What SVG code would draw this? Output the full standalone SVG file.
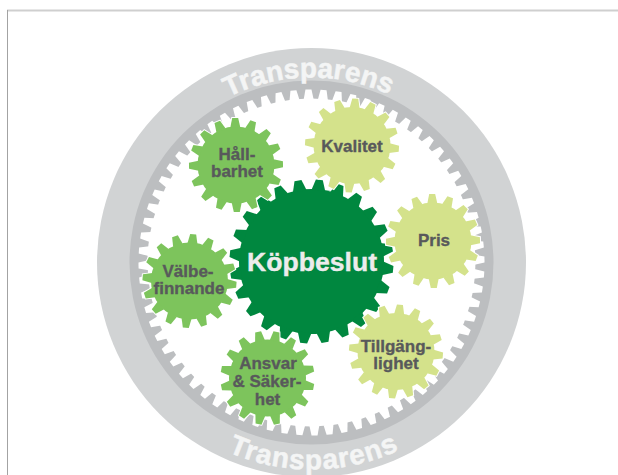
<svg xmlns="http://www.w3.org/2000/svg" xmlns:xlink="http://www.w3.org/1999/xlink" width="618" height="475" viewBox="0 0 618 475">
<style>
text{font-family:"Liberation Sans",Arial,sans-serif;font-weight:700}
.lab{font-size:17px;fill:#58595b;stroke:#58595b;stroke-width:.35;text-anchor:middle}
.rim{font-size:28px;fill:#f4f5f5;stroke:#f4f5f5;stroke-width:.5;text-anchor:middle}
</style>
<defs>
<path id="topArc" d="M126.5 262.5A185 185 0 0 1 496.5 262.5"/>
<path id="botArc" d="M104.5 262.5A207 207 0 0 0 518.5 262.5"/>
<polygon id="r1" points="-5,-163 -3,-173 3,-173 5,-163"/>
<g id="r2"><use href="#r1"/><use href="#r1" transform="rotate(5)"/><use href="#r1" transform="rotate(10)"/></g>
<g id="r3"><use href="#r2"/><use href="#r2" transform="rotate(15)"/><use href="#r2" transform="rotate(30)"/><use href="#r2" transform="rotate(45)"/></g>
<g id="ringGear"><circle r="164"/><use href="#r3"/><use href="#r3" transform="rotate(60)"/><use href="#r3" transform="rotate(120)"/><use href="#r3" transform="rotate(180)"/><use href="#r3" transform="rotate(240)"/><use href="#r3" transform="rotate(300)"/></g>
<polygon id="b1" points="-7,-71 -3.5,-82 3.5,-82 7,-71"/>
<g id="b2"><use href="#b1"/><use href="#b1" transform="rotate(15)"/><use href="#b1" transform="rotate(30)"/></g>
<g id="b3"><use href="#b2"/><use href="#b2" transform="rotate(45)"/></g>
<g id="bigGear"><circle r="72.5"/><use href="#b3"/><use href="#b3" transform="rotate(90)"/><use href="#b3" transform="rotate(180)"/><use href="#b3" transform="rotate(270)"/></g>
<polygon id="s1" points="-5,-37.5 -3,-47 3,-47 5,-37.5"/>
<g id="s2"><use href="#s1"/><use href="#s1" transform="rotate(22.5)"/></g>
<g id="s3"><use href="#s2"/><use href="#s2" transform="rotate(45)"/></g>
<g id="smallGear"><circle r="38.5"/><use href="#s3"/><use href="#s3" transform="rotate(90)"/><use href="#s3" transform="rotate(180)"/><use href="#s3" transform="rotate(270)"/></g>
</defs>
<rect width="618" height="475" fill="#fff"/>
<g id="frame">
<rect x="7" y="9.5" width="611" height="2" fill="#cfcfcf"/>
<rect x="7" y="10" width="1" height="465" fill="#a3a3a3"/>
</g>
<g id="ring">
<circle cx="311.5" cy="262.5" r="214.5" fill="#d1d3d4"/>
<circle cx="311.5" cy="262.5" r="182" fill="#bcbec0"/>
<use href="#ringGear" fill="#fff" transform="translate(311.5 262.5) rotate(-1)"/>
<text class="rim"><textPath href="#topArc" startOffset="49.5%">Transparens</textPath></text>
<text class="rim" letter-spacing="1"><textPath href="#botArc" startOffset="50.4%">Transparens</textPath></text>
</g>
<g id="connectors"/>
<g id="kopbeslut">
<use href="#bigGear" fill="#00873f" transform="translate(311.5 261.5) rotate(5.5)"/>
<text x="312" y="271" text-anchor="middle" font-size="26.6" fill="#ececec" stroke="#ececec" stroke-width=".4">Köpbeslut</text>
</g>
<g id="hallbarhet">
<use href="#smallGear" fill="#fff" stroke="#fff" stroke-width="2" transform="translate(236 165) rotate(-1)"/>
<use href="#smallGear" fill="#7dc45c" transform="translate(236 165) rotate(-1)"/>
<text class="lab" x="237" y="159.5">Håll-</text><text class="lab" x="237" y="177">barhet</text>
</g>
<g id="kvalitet">
<use href="#smallGear" fill="#fff" stroke="#fff" stroke-width="2" transform="translate(352 145.5) rotate(4)"/>
<use href="#smallGear" fill="#d4e28b" transform="translate(352 145.5) rotate(4)"/>
<text class="lab" x="352" y="151.5">Kvalitet</text>
</g>
<g id="pris">
<use href="#smallGear" fill="#fff" stroke="#fff" stroke-width="2" transform="translate(433 241) rotate(-1)"/>
<use href="#smallGear" fill="#d4e28b" transform="translate(433 241) rotate(-1)"/>
<text class="lab" x="434" y="245.7">Pris</text>
</g>
<g id="tillganglighet">
<use href="#smallGear" fill="#fff" stroke="#fff" stroke-width="2" transform="translate(396 351.5) rotate(4.8)"/>
<use href="#smallGear" fill="#d4e28b" transform="translate(396 351.5) rotate(4.8)"/>
<text class="lab" x="396" y="351.7">Tillgäng-</text><text class="lab" x="396" y="369">lighet</text>
</g>
<g id="ansvar">
<use href="#smallGear" fill="#fff" stroke="#fff" stroke-width="2" transform="translate(267.5 378) rotate(11)"/>
<use href="#smallGear" fill="#7dc45c" transform="translate(267.5 378) rotate(11)"/>
<text class="lab" x="268" y="369">Ansvar</text><text class="lab" x="267" y="386.7">&amp; Säker-</text><text class="lab" x="267.5" y="405">het</text>
</g>
<g id="valbefinnande">
<use href="#smallGear" fill="#fff" stroke="#fff" stroke-width="2" transform="translate(189.5 281) rotate(4.5)"/>
<use href="#smallGear" fill="#7dc45c" transform="translate(189.5 281) rotate(4.5)"/>
<text class="lab" x="188" y="276.7">Välbe-</text><text class="lab" x="189" y="294">finnande</text>
</g>
</svg>
